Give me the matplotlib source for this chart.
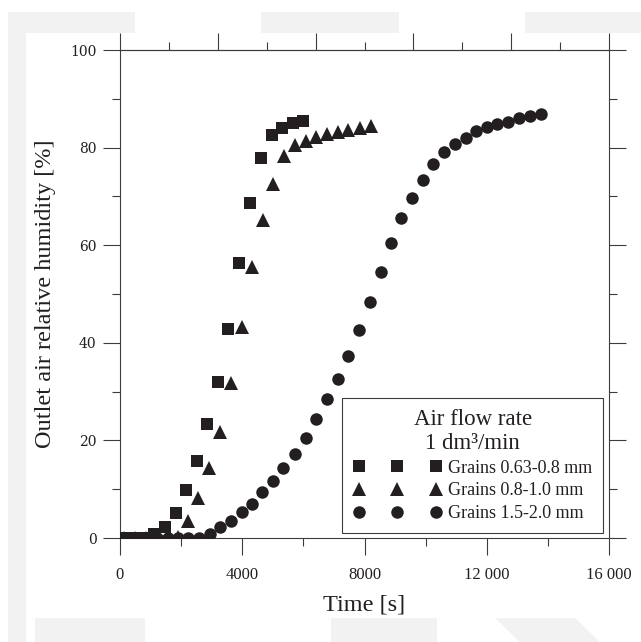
import matplotlib
matplotlib.use("Agg")
import matplotlib.pyplot as plt
from matplotlib.patches import Polygon
from matplotlib.ticker import NullFormatter, FixedLocator

# ---------------- data ----------------
sq_t = [80, 430, 780, 1125, 1472, 1833, 2160, 2510, 2837, 3207, 3544, 3904,
        4264, 4604, 4964, 5291, 5651, 5998]
sq_rh = [0, 0, 0, 0.8, 2.3, 5.1, 9.8, 15.8, 23.4, 32.0, 42.8, 56.4,
         68.6, 77.9, 82.6, 84.1, 85.0, 85.5]

tri_t = [135, 485, 835, 1185, 1535, 1885, 2235, 2562, 2922, 3272, 3622, 3982,
         4310, 4669, 4997, 5376, 5726, 6070, 6424, 6774, 7127, 7461, 7853, 8203]
tri_rh = [0, 0, 0, 0, 0, 0.3, 3.5, 8.1, 14.3, 21.8, 31.7, 43.3,
          55.6, 65.2, 72.5, 78.3, 80.5, 81.4, 82.1, 82.7, 83.1, 83.6, 84.0, 84.4]

circ_t = [158, 508, 858, 1208, 1558, 1908, 2235, 2585, 2945, 3272, 3632, 3982,
          4310, 4656, 4996, 5343, 5726, 6070, 6424, 6763, 7117, 7460, 7807,
          8167, 8533, 8867, 9194, 9564, 9904, 10251, 10611, 10961, 11321,
          11648, 11998, 12345, 12705, 13065, 13415, 13775]
circ_rh = [0, 0, 0, 0, 0, 0, 0, 0.1, 0.8, 2.2, 3.5, 5.3,
           7.0, 9.4, 11.7, 14.3, 17.2, 20.4, 24.3, 28.5, 32.5, 37.3, 42.6,
           48.3, 54.6, 60.4, 65.5, 69.7, 73.4, 76.6, 79.0, 80.7, 82.0,
           83.5, 84.3, 84.8, 85.3, 86.0, 86.5, 86.8]

series_labels = ["Grains 0.63-0.8 mm", "Grains 0.8-1.0 mm", "Grains 1.5-2.0 mm"]
legend_title = "Air flow rate\n1 dm³/min"
x_ticks = [0, 4000, 8000, 12000, 16000]
x_ticklabels = ["0", "4000", "8000", "12 000", "16 000"]
y_ticks = [0, 20, 40, 60, 80, 100]
y_ticklabels = ["0", "20", "40", "60", "80", "100"]
x_label = "Time [s]"
y_label = "Outlet air relative humidity [%]"

# ---------------- figure ----------------
W, H = 641, 642
fig = plt.figure(figsize=(W / 100, H / 100), dpi=100)
fig.patch.set_facecolor("white")

GRAY = "#f2f2f2"


def px_poly(pts):
    return Polygon([(x / W, 1 - y / H) for x, y in pts], closed=True,
                   transform=fig.transFigure, facecolor=GRAY, edgecolor="none",
                   zorder=-10)


# faint background shapes in the margins
shapes = [
    [(8, 12), (135, 12), (135, 33), (26, 33), (26, 642), (8, 642)],
    [(261, 12), (399, 12), (399, 33), (261, 33)],
    [(525, 12), (641, 12), (641, 33), (525, 33)],
    [(35, 618), (145, 618), (145, 642), (35, 642)],
    [(331, 618), (437, 618), (437, 642), (331, 642)],
    [(495, 618), (575, 618), (600, 642), (520, 642)],
]
for s in shapes:
    fig.add_artist(px_poly(s))

ax = fig.add_axes([120 / W, 1 - 538 / H, (609 - 120) / W, (538 - 50) / H])
ax.set_facecolor("white")

INK = "#231f20"
AXC = "#3c3c3c"

ax.plot(sq_t, sq_rh, linestyle="none", marker="s", markersize=8.8,
        color=INK, markeredgewidth=0, label=series_labels[0], zorder=3)
ax.plot(tri_t, tri_rh, linestyle="none", marker="^", markersize=10,
        color=INK, markeredgewidth=0, label=series_labels[1], zorder=3)
ax.plot(circ_t, circ_rh, linestyle="none", marker="o", markersize=9,
        color=INK, markeredgewidth=0, label=series_labels[2], zorder=3)

ax.set_xlim(0, 16000)
ax.set_ylim(0, 100)

ax.set_xticks(x_ticks)
ax.set_xticklabels(x_ticklabels, fontfamily="Liberation Serif", fontsize=12,
                   color=INK)
ax.xaxis.set_minor_locator(FixedLocator([2000, 6000, 10000, 14000]))
ax.set_yticks(y_ticks)
ax.set_yticklabels(y_ticklabels, fontfamily="DejaVu Serif", fontsize=10,
                   color=INK)
ax.yaxis.set_minor_locator(FixedLocator([10, 30, 50, 70, 90]))

ax.tick_params(which="both", direction="out", right=True, top=False,
               color=AXC, width=0.8)
ax.tick_params(which="major", length=12)
ax.tick_params(which="minor", length=6)
ax.tick_params(axis="x", which="major", pad=9)
ax.tick_params(axis="y", which="major", pad=5)

sec = ax.secondary_xaxis("top")
sec.set_xticks(list(range(0, 16001, 3200)))
sec.xaxis.set_minor_locator(FixedLocator(list(range(1600, 16000, 3200))))
sec.xaxis.set_major_formatter(NullFormatter())
sec.tick_params(which="both", direction="out", color=AXC, width=0.8)
sec.tick_params(which="major", length=12)
sec.tick_params(which="minor", length=6)
sec.spines["top"].set_color(AXC)
sec.spines["top"].set_linewidth(0.8)

for sp in ax.spines.values():
    sp.set_color(AXC)
    sp.set_linewidth(0.8)

ax.set_xlabel(x_label, fontfamily="Liberation Serif", fontsize=17.5,
              color=INK, labelpad=8)
ax.set_ylabel(y_label, fontfamily="Liberation Serif", fontsize=17.5,
              color=INK, labelpad=10)

leg = ax.legend(loc="lower right", bbox_to_anchor=(0.9877, 0.0102),
                borderaxespad=0, numpoints=3, handlelength=4.9,
                handletextpad=0.35, borderpad=0.6, labelspacing=0.32,
                fancybox=False, framealpha=1, edgecolor=AXC,
                title=legend_title,
                prop={"family": "Liberation Serif", "size": 13},
                title_fontproperties={"family": "Liberation Serif",
                                      "size": 16.5})
leg.get_frame().set_linewidth(0.8)
leg.get_title().set_multialignment("center")
leg.get_title().set_color(INK)
for t in leg.get_texts():
    t.set_color(INK)

fig.savefig("out.png", dpi=100, facecolor="white")
